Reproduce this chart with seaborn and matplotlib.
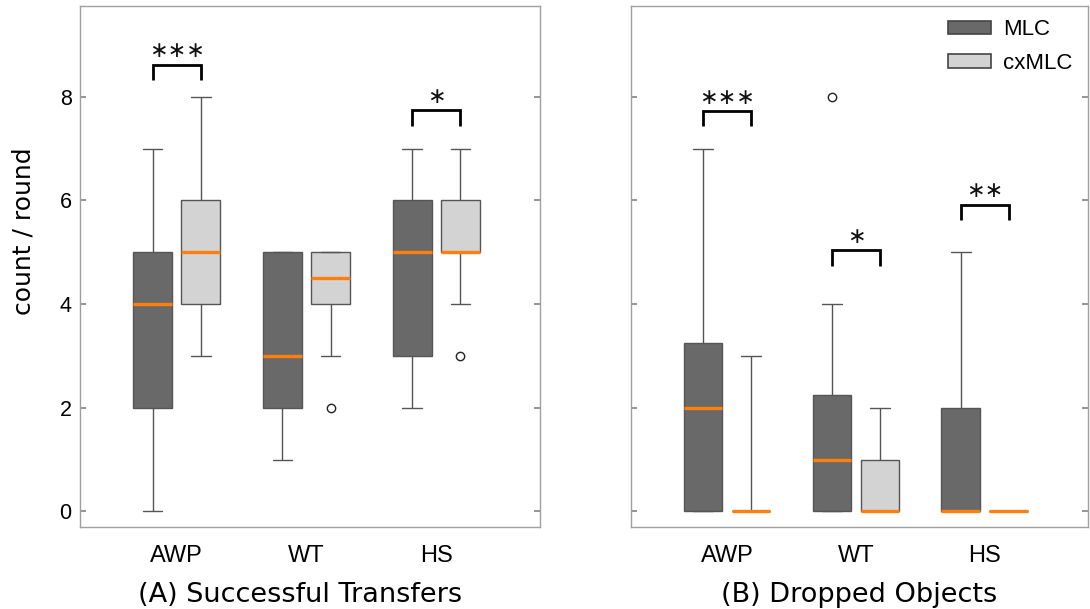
import numpy as np
import pandas as pd
import matplotlib
matplotlib.use("Agg")
import matplotlib.pyplot as plt
import seaborn as sns
from matplotlib.patches import Patch

# ---------------- data ----------------
conditions = ["AWP", "WT", "HS"]
methods = ["MLC", "cxMLC"]

# (A) Successful Transfers (count / round)
transfers_awp_mlc = [0, 2, 2, 3, 4, 4, 5, 5, 7]
transfers_awp_cxmlc = [3, 4, 4, 5, 5, 5, 6, 7, 8]
transfers_wt_mlc = [1, 2, 2, 3, 3, 4, 5, 5, 5]
transfers_wt_cxmlc = [2, 3, 4, 4, 4, 5, 5, 5, 5, 5]
transfers_hs_mlc = [2, 3, 3, 4, 5, 5, 6, 6, 7]
transfers_hs_cxmlc = [3, 4, 5, 5, 5, 5, 6, 6, 7]

# (B) Dropped Objects (count / round)
dropped_awp_mlc = [0, 0, 0, 0, 1, 2, 2, 3, 3, 4, 5, 7]
dropped_awp_cxmlc = [0, 0, 0, 0, 0, 0, 0, 0, 3]
dropped_wt_mlc = [0, 0, 0, 0, 1, 1, 1, 2, 2, 3, 4, 8]
dropped_wt_cxmlc = [0, 0, 0, 0, 0, 0, 1, 1, 2]
dropped_hs_mlc = [0, 0, 0, 0, 0, 1, 2, 3, 5]
dropped_hs_cxmlc = [0, 0, 0, 0, 0, 0, 0, 0, 0]

# significance annotations: (condition, stars, bracket top level)
sig_A = [("AWP", "∗∗∗", 8.62), ("HS", "∗", 7.74)]
sig_B = [("AWP", "∗∗∗", 7.73), ("WT", "∗", 5.04), ("HS", "∗∗", 5.92)]

titles = ["(A) Successful Transfers", "(B) Dropped Objects"]
ylabel = "count / round"
yticks = [0, 2, 4, 6, 8]


def long_form(groups):
    rows = []
    for (cond, meth), vals in groups.items():
        for v in vals:
            rows.append({"condition": cond, "method": meth, "value": v})
    return pd.DataFrame(rows)


df_A = long_form({
    ("AWP", "MLC"): transfers_awp_mlc, ("AWP", "cxMLC"): transfers_awp_cxmlc,
    ("WT", "MLC"): transfers_wt_mlc, ("WT", "cxMLC"): transfers_wt_cxmlc,
    ("HS", "MLC"): transfers_hs_mlc, ("HS", "cxMLC"): transfers_hs_cxmlc,
})
df_B = long_form({
    ("AWP", "MLC"): dropped_awp_mlc, ("AWP", "cxMLC"): dropped_awp_cxmlc,
    ("WT", "MLC"): dropped_wt_mlc, ("WT", "cxMLC"): dropped_wt_cxmlc,
    ("HS", "MLC"): dropped_hs_mlc, ("HS", "cxMLC"): dropped_hs_cxmlc,
})

# ---------------- style ----------------
sns.set_theme(style="white")
plt.rcParams["font.family"] = ["DejaVu Sans"]
plt.rcParams["text.color"] = "black"
plt.rcParams["axes.labelcolor"] = "black"
plt.rcParams["xtick.color"] = "black"
plt.rcParams["ytick.color"] = "black"

palette = {"MLC": "#696969", "cxMLC": "#d3d3d3"}
WIDTH = 0.744
GAP = 0.19
box_kws = dict(
    x="condition", y="value", hue="method", order=conditions, hue_order=methods,
    palette=palette, saturation=1, width=WIDTH, gap=GAP, dodge=True,
    linecolor="#555555", linewidth=1.0, legend=False,
    medianprops=dict(color="#ff7f0e", linewidth=2.4),
    flierprops=dict(marker="o", markerfacecolor="none", markeredgecolor="#222222",
                    markersize=6, markeredgewidth=1.0),
)

fig = plt.figure(figsize=(10.9, 6.09), dpi=100)
axA = fig.add_axes([80 / 1090, 82 / 609, 460 / 1090, 521 / 609])
axB = fig.add_axes([631 / 1090, 82 / 609, 457 / 1090, 521 / 609])

sns.boxplot(data=df_A, ax=axA, whis=1.5, **box_kws)

# panel B: the all-equal-quartile group uses full-range whiskers
mask_full = (df_B["condition"] == "AWP") & (df_B["method"] == "cxMLC")
sns.boxplot(data=df_B[~mask_full], ax=axB, whis=1.5, **box_kws)
sns.boxplot(data=df_B[mask_full], ax=axB, whis=(0, 100), **box_kws)

slot = WIDTH / len(methods)
offsets = [slot * i + slot / 2 - WIDTH / 2 for i in range(len(methods))]

for ax, sigs, title in [(axA, sig_A, titles[0]), (axB, sig_B, titles[1])]:
    ax.set_xlim(-0.745, 2.8)
    ax.set_ylim(-0.3, 9.75)
    ax.set_yticks(yticks)
    ax.set_xticks(range(len(conditions)))
    ax.set_xticklabels(conditions)
    ax.tick_params(axis="x", labelfontfamily="Liberation Sans", labelsize=17,
                   labelcolor="black", bottom=False, pad=7)
    ax.tick_params(axis="y", labelfontfamily="Liberation Sans", labelsize=15.5,
                   labelcolor="black", direction="in", length=4, color="#888888",
                   left=True, right=True, pad=6)
    for sp in ax.spines.values():
        sp.set_color("#a0a0a0")
        sp.set_linewidth(1.0)
    ax.set_xlabel(title, fontsize=19.5)
    ax.set_ylabel("")
    for cond, stars, top in sigs:
        i = conditions.index(cond)
        x0, x1 = i + offsets[0], i + offsets[1]
        ax.plot([x0, x0, x1, x1], [top - 0.3, top, top, top - 0.3],
                color="black", linewidth=2.0, solid_joinstyle="miter",
                solid_capstyle="butt", zorder=5)
        ax.text((x0 + x1) / 2, top + 0.06, stars, ha="center", va="bottom",
                fontsize=16, color="#111111")

axA.set_ylabel(ylabel, fontsize=18)
axA.yaxis.set_label_coords(-0.096, 0.568)
axA.xaxis.set_label_coords(0.478, -0.105)
axB.xaxis.set_label_coords(0.5, -0.105)
axB.set_yticklabels([])

handles = [Patch(facecolor=palette[m], edgecolor="#444444", linewidth=1.2) for m in methods]
leg = axB.legend(handles, methods, loc="upper left", bbox_to_anchor=(0.674, 0.992),
                 borderaxespad=0, frameon=False, handlelength=1.95, handleheight=0.55,
                 labelspacing=0.58, handletextpad=0.55,
                 prop={"family": "Liberation Sans", "size": 16})

fig.savefig("out.png", dpi=100)
